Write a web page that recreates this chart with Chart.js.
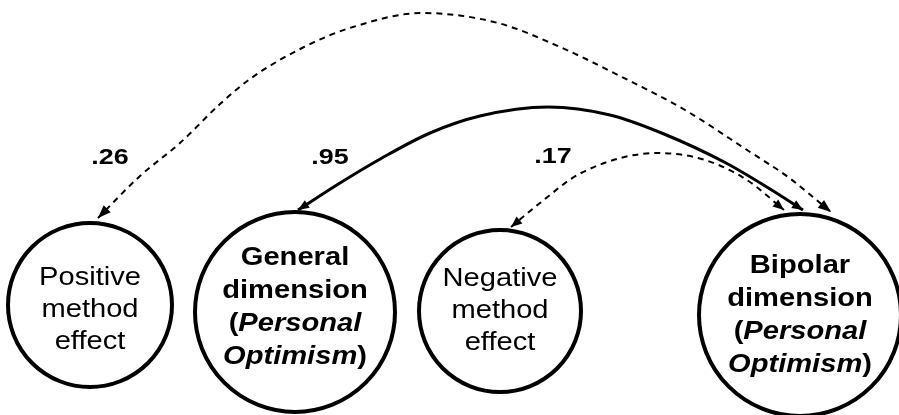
<!DOCTYPE html>
<html>
<head>
<meta charset="utf-8">
<script src="https://cdn.jsdelivr.net/npm/chart.js@4.4.1/dist/chart.umd.min.js"></script>
<style>
html,body{margin:0;padding:0;background:#fff;}
#wrap{width:899px;height:415px;position:relative;}
</style>
</head>
<body>
<div id="wrap"><canvas id="c"></canvas></div>
<script>
// ---- Data (diagram coordinates, 1 unit = 1 px) ----
const nodeX = [90, 295, 500, 800];
const nodeY = [305, 312, 311, 315];
const nodeR = [82, 100, 81, 101];
const nodeBold = [false, true, false, true];
const nodeTextY = [310, 307, 311, 315];
const nodeLines = [
  [[["Positive", false]], [["method", false]], [["effect", false]]],
  [[["General", false]], [["dimension", false]], [["(", false], ["Personal", true]], [["Optimism", true], [")", false]]],
  [[["Negative", false]], [["method", false]], [["effect", false]]],
  [[["Bipolar", false]], [["dimension", false]], [["(", false], ["Personal", true]], [["Optimism", true], [")", false]]]
];

// Covariance arcs
const arcPosBip = [[98,218],[140,176],[180,143],[220,104],[250,79],[304,47],[353,27],[422,13],[498,23],[560,47],[622,77],[685,110],[747,150],[788,177],[831,212]];
const arcGenBip = [[298,210],[340,183],[382,158],[430,133],[480,116],[548,107],[610,115],[664,134],[726,163],[770,189],[803,210]];
const arcNegBip = [[511,227],[540,203],[581,173],[658,153],[705,160],[747,180],[784,210]];

const coefLabels = [".26", ".95", ".17"];
const coefX = [110, 330, 553];
const coefY = [158, 158, 157];

// ---- Chart ----
const FONT = '"Liberation Sans", Arial, Helvetica, sans-serif';
const toPts = a => a.map(p => ({x: p[0], y: p[1]}));

const arrowPlugin = {
  id: 'arrows',
  afterDatasetsDraw(chart) {
    const ctx = chart.ctx;
    chart.data.datasets.forEach((ds, i) => {
      if (!ds.arrows) return;
      const pts = chart.getDatasetMeta(i).data;
      const n = pts.length;
      const heads = [[pts[0], pts[1]], [pts[n-1], pts[n-2]]];
      heads.forEach(([tip, from]) => {
        const ang = Math.atan2(tip.y - from.y, tip.x - from.x);
        const L = ds.arrowLen, W = ds.arrowW;
        ctx.save();
        ctx.translate(tip.x, tip.y);
        ctx.rotate(ang);
        ctx.beginPath();
        ctx.moveTo(0, 0);
        ctx.lineTo(-L, -W/2);
        ctx.lineTo(-L, W/2);
        ctx.closePath();
        ctx.fillStyle = '#000';
        ctx.fill();
        ctx.restore();
      });
    });
  }
};

const textPlugin = {
  id: 'texts',
  afterDraw(chart) {
    const ctx = chart.ctx;
    const xs = chart.scales.x, ys = chart.scales.y;
    const sx = 1.12;
    ctx.save();
    ctx.fillStyle = '#000';
    ctx.textBaseline = 'middle';
    ctx.textAlign = 'left';
    nodeLines.forEach((lines, k) => {
      const lh = lines.length === 4 ? 33 : 32;
      const cx = xs.getPixelForValue(nodeX[k]);
      const cyc = ys.getPixelForValue(nodeTextY[k]);
      const y0 = cyc - (lines.length - 1) * lh / 2;
      lines.forEach((segs, j) => {
        const fontFor = it => (it ? 'italic ' : '') + (nodeBold[k] ? 'bold ' : '') + '26px ' + FONT;
        let total = 0;
        segs.forEach(([t, it]) => { ctx.font = fontFor(it); total += ctx.measureText(t).width; });
        ctx.save();
        ctx.translate(cx, y0 + j * lh);
        ctx.scale(sx, 1);
        let x = -total / 2;
        segs.forEach(([t, it]) => { ctx.font = fontFor(it); ctx.fillText(t, x, 0); x += ctx.measureText(t).width; });
        ctx.restore();
      });
    });
    coefLabels.forEach((t, k) => {
      ctx.save();
      ctx.translate(xs.getPixelForValue(coefX[k]), ys.getPixelForValue(coefY[k]));
      ctx.scale(1.22, 1);
      ctx.font = 'bold 22px ' + FONT;
      ctx.textAlign = 'center';
      ctx.fillText(t, 0, 0);
      ctx.restore();
    });
    ctx.restore();
  }
};

new Chart(document.getElementById('c'), {
  type: 'scatter',
  data: {
    datasets: [
      {
        type: 'bubble',
        data: nodeX.map((x, i) => ({x: x, y: nodeY[i], r: nodeR[i]})),
        backgroundColor: '#fff',
        borderColor: '#000',
        borderWidth: 4,
        hoverBorderWidth: 4,
        clip: false,
        order: 2
      },
      {
        type: 'line',
        data: toPts(arcPosBip),
        borderColor: '#000',
        borderWidth: 2,
        borderDash: [6, 5],
        cubicInterpolationMode: 'monotone',
        pointRadius: 0,
        fill: false,
        clip: false,
        arrows: true, arrowLen: 13, arrowW: 10,
        order: 1
      },
      {
        type: 'line',
        data: toPts(arcGenBip),
        borderColor: '#000',
        borderWidth: 3,
        cubicInterpolationMode: 'monotone',
        pointRadius: 0,
        fill: false,
        clip: false,
        arrows: true, arrowLen: 11, arrowW: 9,
        order: 1
      },
      {
        type: 'line',
        data: toPts(arcNegBip),
        borderColor: '#000',
        borderWidth: 2,
        borderDash: [6, 5],
        cubicInterpolationMode: 'monotone',
        pointRadius: 0,
        fill: false,
        clip: false,
        arrows: true, arrowLen: 11, arrowW: 9,
        order: 1
      }
    ]
  },
  options: {
    responsive: true,
    maintainAspectRatio: false,
    animation: false,
    events: [],
    layout: {padding: 0, autoPadding: false},
    plugins: {legend: {display: false}, tooltip: {enabled: false}},
    scales: {
      x: {type: 'linear', min: 0, max: 899, display: false},
      y: {type: 'linear', min: 0, max: 415, reverse: true, display: false}
    }
  },
  plugins: [arrowPlugin, textPlugin]
});
</script>
</body>
</html>
